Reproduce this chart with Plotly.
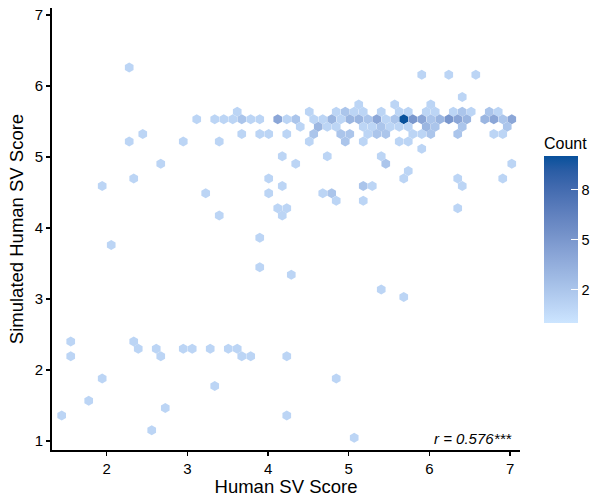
import plotly.graph_objects as go

# ---- data: hex-bin centres (Human SV Score, Simulated Human SV Score) and counts ----
hex_x = [
    2.279,
    5.905, 6.240, 6.575,
    6.407,
    5.124, 5.570, 6.017,
    3.618, 4.511, 4.845, 4.957, 5.068, 5.180, 5.403, 5.626, 5.738, 5.961, 6.072, 6.296, 6.407, 6.518, 6.742, 6.853,
    3.116, 3.339, 3.451, 3.562, 3.674, 3.785, 3.897, 4.120, 4.232, 4.343, 4.566, 4.678, 4.789, 4.901, 5.013, 5.124,
    5.236, 5.347, 5.459, 5.570, 5.682, 5.794, 5.905, 6.017, 6.128, 6.240, 6.351, 6.463, 6.686, 6.798, 6.909, 7.021,
    4.399, 4.622, 4.734, 4.845, 5.180, 5.292, 5.403, 5.515, 5.626, 5.738, 5.961, 6.072, 6.407, 6.965,
    2.447, 3.674, 3.897, 4.008, 4.232, 4.566, 4.901, 5.013, 5.236, 5.347, 5.459, 5.794, 5.905, 6.017, 6.351, 6.798, 6.909,
    2.279, 2.949, 3.395, 4.511, 4.957, 5.180, 5.626, 5.738,
    5.905,
    4.176, 4.734, 5.403,
    2.670, 4.343, 5.459, 7.021,
    5.738,
    2.335, 4.008, 5.682, 6.351, 6.909,
    1.944, 4.176, 5.180, 5.292, 6.407,
    3.227, 4.008, 4.678, 4.789,
    4.845, 5.180,
    4.120, 4.232, 6.351,
    3.395, 4.176,
    3.897,
    2.056,
    3.897,
    4.288,
    5.403,
    5.682,
    1.554, 2.335,
    2.391, 2.614, 2.949, 3.060, 3.283, 3.507, 3.618,
    1.554, 2.670, 3.674, 3.785, 4.232,
    1.944, 4.845,
    3.339,
    1.777,
    2.726,
    1.442, 4.232,
    2.558,
    5.068,
]
hex_y = [
    6.262,
    6.158, 6.158, 6.158,
    5.845,
    5.741, 5.741, 5.741,
    5.636, 5.636, 5.636, 5.636, 5.636, 5.636, 5.636, 5.636, 5.636, 5.636, 5.636, 5.636, 5.636, 5.636, 5.636, 5.636,
    5.532, 5.532, 5.532, 5.532, 5.532, 5.532, 5.532, 5.532, 5.532, 5.532, 5.532, 5.532, 5.532, 5.532, 5.532, 5.532,
    5.532, 5.532, 5.532, 5.532, 5.532, 5.532, 5.532, 5.532, 5.532, 5.532, 5.532, 5.532, 5.532, 5.532, 5.532, 5.532,
    5.428, 5.428, 5.428, 5.428, 5.428, 5.428, 5.428, 5.428, 5.428, 5.428, 5.428, 5.428, 5.428, 5.428,
    5.323, 5.323, 5.323, 5.323, 5.323, 5.323, 5.323, 5.323, 5.323, 5.323, 5.323, 5.323, 5.323, 5.323, 5.323, 5.323, 5.323,
    5.219, 5.219, 5.219, 5.219, 5.219, 5.219, 5.219, 5.219,
    5.115,
    5.010, 5.010, 5.010,
    4.906, 4.906, 4.906, 4.906,
    4.802,
    4.697, 4.697, 4.697, 4.697, 4.697,
    4.593, 4.593, 4.593, 4.593, 4.593,
    4.489, 4.489, 4.489, 4.489,
    4.384, 4.384,
    4.280, 4.280, 4.280,
    4.176, 4.176,
    3.863,
    3.759,
    3.446,
    3.341,
    3.133,
    3.028,
    2.402, 2.402,
    2.298, 2.298, 2.298, 2.298, 2.298, 2.298, 2.298,
    2.194, 2.194, 2.194, 2.194, 2.194,
    1.881, 1.881,
    1.776,
    1.568,
    1.463,
    1.359, 1.359,
    1.150,
    1.046,
]
hex_count = [
    1,
    1, 1, 1,
    1,
    1, 1, 1,
    1, 1, 1, 2, 1, 1, 1, 1, 1, 1, 1, 1, 2, 1, 2, 1,
    1, 1, 1, 1, 2, 1, 1, 4, 1, 2, 1, 1, 3, 1, 3, 3,
    2, 4, 1, 2, 10, 5, 4, 2, 3, 5, 4, 3, 3, 4, 2, 4,
    1, 3, 1, 1, 1, 1, 2, 1, 1, 1, 3, 2, 2, 2,
    1, 1, 1, 1, 1, 2, 2, 2, 1, 2, 2, 1, 1, 2, 2, 1, 1,
    1, 1, 1, 1, 2, 1, 1, 1,
    1,
    1, 1, 1,
    1, 1, 2, 1,
    1,
    1, 1, 1, 1, 1,
    1, 1, 2, 1, 1,
    1, 1, 1, 2,
    1, 1,
    1, 1, 1,
    1, 1,
    1,
    1,
    1,
    1,
    1,
    1,
    1, 1,
    1, 1, 1, 1, 1, 1, 1,
    1, 1, 1, 1, 1,
    1, 1,
    1,
    1,
    1,
    1, 1,
    1,
    1,
]
x_ticks = [2, 3, 4, 5, 6, 7]
y_ticks = [1, 2, 3, 4, 5, 6, 7]
count_ticks = [2, 5, 8]
r_label = "r = 0.576***"

# ---- colour scale: gradient interpolated in CIE Lab (like ggplot2) ----
LOW, HIGH = "#cce5ff", "#08519c"


def _to_lab(h):
    rgb = [int(h[i:i + 2], 16) / 255 for i in (1, 3, 5)]
    lin = [c / 12.92 if c <= 0.04045 else ((c + 0.055) / 1.055) ** 2.4 for c in rgb]
    X = (0.4124 * lin[0] + 0.3576 * lin[1] + 0.1805 * lin[2]) / 0.95047
    Y = (0.2126 * lin[0] + 0.7152 * lin[1] + 0.0722 * lin[2])
    Z = (0.0193 * lin[0] + 0.1192 * lin[1] + 0.9505 * lin[2]) / 1.08883
    f = lambda t: t ** (1 / 3) if t > 0.008856 else 7.787 * t + 16 / 116
    fx, fy, fz = f(X), f(Y), f(Z)
    return 116 * fy - 16, 500 * (fx - fy), 200 * (fy - fz)


def _from_lab(L, a, b):
    fy = (L + 16) / 116
    fx, fz = fy + a / 500, fy - b / 200
    g = lambda t: t ** 3 if t ** 3 > 0.008856 else (t - 16 / 116) / 7.787
    X, Y, Z = g(fx) * 0.95047, g(fy), g(fz) * 1.08883
    r = 3.2406 * X - 1.5372 * Y - 0.4986 * Z
    gg = -0.9689 * X + 1.8758 * Y + 0.0415 * Z
    bb = 0.0557 * X - 0.2040 * Y + 1.0570 * Z
    out = []
    for c in (r, gg, bb):
        c = 12.92 * c if c <= 0.0031308 else 1.055 * c ** (1 / 2.4) - 0.055
        out.append(max(0, min(255, round(c * 255))))
    return "rgb(%d,%d,%d)" % tuple(out)


lo, hi = _to_lab(LOW), _to_lab(HIGH)
nstop = 12
colorscale = []
for i in range(nstop):
    t = i / (nstop - 1)
    colorscale.append([t, _from_lab(*[lo[j] + (hi[j] - lo[j]) * t for j in range(3)])])

FONT = "Liberation Sans, Arial, Helvetica, sans-serif"

fig = go.Figure()
fig.add_trace(go.Scatter(
    x=hex_x, y=hex_y, mode="markers",
    marker=dict(
        symbol="hexagon", size=10, line=dict(width=0),
        color=hex_count, colorscale=colorscale, cmin=0, cmax=10,
        showscale=True,
        colorbar=dict(
            title=dict(text="Count", side="top", font=dict(size=16, family=FONT, color="black")),
            thickness=34, thicknessmode="pixels",
            len=189, lenmode="pixels",
            x=1.0513, xanchor="left", xpad=0,
            y=0.501, yanchor="middle", ypad=0,
            tickvals=count_ticks, ticks="inside", tickcolor="white", ticklen=7, tickwidth=1,
            outlinewidth=0,
            tickfont=dict(size=14.5, family=FONT, color="black"),
        ),
    ),
    hoverinfo="skip",
    showlegend=False,
))

fig.add_annotation(
    x=7.05, y=1.035, xref="x", yref="y", text="<i>" + r_label + "</i>",
    showarrow=False, xanchor="right", yanchor="middle",
    font=dict(size=15, family=FONT, color="black"),
)

axis_common = dict(
    showgrid=False, zeroline=False, showline=True, linecolor="black", linewidth=2,
    ticks="outside", ticklen=4, tickwidth=1.5, tickcolor="black",
    tickfont=dict(size=15, family=FONT, color="black"),
)
fig.update_xaxes(range=[1.322, 7.123], tickvals=x_ticks,
                 title=dict(text="Human SV Score", font=dict(size=18.5, family=FONT, color="black"), standoff=3),
                 **axis_common)
fig.update_yaxes(range=[0.873, 7.099], tickvals=y_ticks,
                 title=dict(text="Simulated Human SV Score", font=dict(size=18.5, family=FONT, color="black"), standoff=6),
                 **axis_common)

fig.update_layout(
    width=593, height=497,
    margin=dict(l=52, r=73, t=8, b=47, autoexpand=False),
    paper_bgcolor="white", plot_bgcolor="white",
    font=dict(family=FONT, color="black"),
)

# remove the browser's default page margin so the figure fills the window exactly
fig.write_html(
    "out.html",
    config={"displayModeBar": False, "staticPlot": True},
    post_script="document.body.style.margin='0px';document.body.style.overflow='hidden';",
)
